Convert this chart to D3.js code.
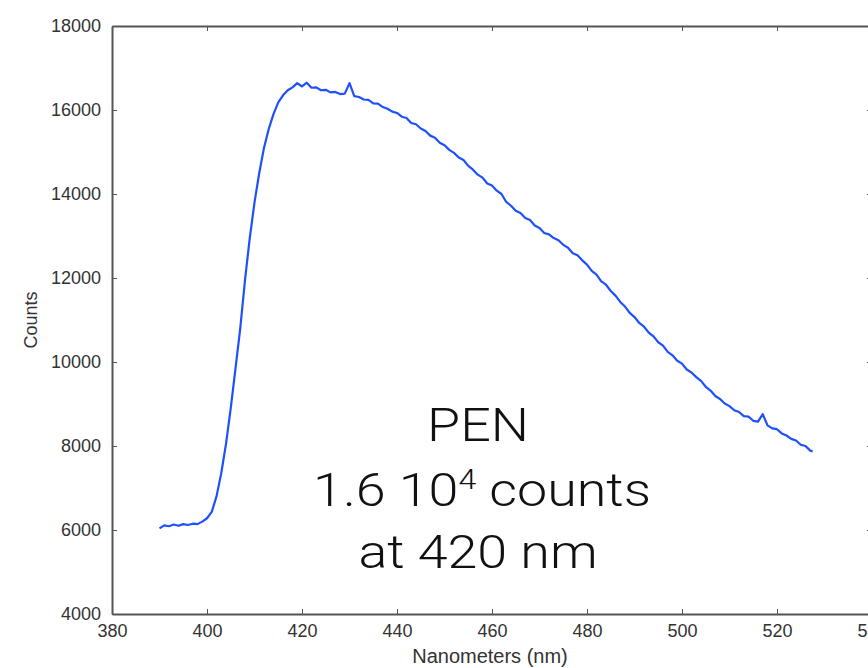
<!DOCTYPE html>
<html>
<head>
<meta charset="utf-8">
<script src="https://cdn.jsdelivr.net/npm/d3@7"></script>
<style>
  body { margin: 0; background: #fff; }
  svg { display: block; }
  .axis path, .axis line { stroke: #555; }
  .axis text { fill: #333; font-family: "Liberation Sans", Arial, sans-serif; font-size: 18px; }
</style>
</head>
<body>
<svg width="868" height="668"></svg>
<script>
// spectrum, 1 nm steps
var wavelengths = [390,391,392,393,394,395,396,397,398,399,
  400,401,402,403,404,405,406,407,408,409,
  410,411,412,413,414,415,416,417,418,419,
  420,421,422,423,424,425,426,427,428,429,
  430,431,432,433,434,435,436,437,438,439,
  440,441,442,443,444,445,446,447,448,449,
  450,451,452,453,454,455,456,457,458,459,
  460,461,462,463,464,465,466,467,468,469,
  470,471,472,473,474,475,476,477,478,479,
  480,481,482,483,484,485,486,487,488,489,
  490,491,492,493,494,495,496,497,498,499,
  500,501,502,503,504,505,506,507,508,509,
  510,511,512,513,514,515,516,517,518,519,
  520,521,522,523,524,525,526,527,527.5];
var counts = [6040,6110,6090,6130,6100,6140,6120,6150,6140,6200,
  6280,6430,6800,7350,8050,8900,9850,10800,11950,12950,
  13800,14500,15100,15550,15900,16180,16350,16470,16540,16640,
  16560,16650,16530,16540,16470,16480,16420,16430,16380,16390,
  16640,16330,16310,16250,16240,16160,16150,16070,16030,15960,
  15930,15840,15810,15690,15660,15560,15500,15390,15340,15220,
  15160,15050,14980,14870,14810,14670,14580,14460,14390,14250,
  14200,14080,14000,13810,13720,13600,13550,13430,13380,13250,
  13190,13070,13040,12950,12900,12790,12720,12590,12540,12420,
  12320,12170,12080,11920,11840,11690,11580,11430,11320,11170,
  11070,10930,10840,10700,10610,10470,10390,10240,10160,10030,
  9960,9820,9750,9640,9550,9410,9320,9190,9120,9010,
  8950,8850,8810,8710,8700,8600,8580,8760,8490,8420,
  8400,8300,8250,8170,8130,8030,8000,7890,7870];

var xTicks = [380,400,420,440,460,480,500,520,540];
var yTicks = [4000,6000,8000,10000,12000,14000,16000,18000];
var noteLines = ["PEN", "1.6 10", "at 420 nm"];

var svg = d3.select("svg");
var margin = {left: 112, top: 26, right: -4, bottom: 54};
var width = svg.attr("width") - margin.left - margin.right;
var height = svg.attr("height") - margin.top - margin.bottom;

var x = d3.scaleLinear().domain([380, 540]).range([margin.left, margin.left + width]);
var y = d3.scaleLinear().domain([4000, 18000]).range([margin.top + height, margin.top]);

var data = wavelengths.map(function(w, i) { return {nm: w, c: counts[i]}; });

var line = d3.line()
    .x(function(d) { return x(d.nm); })
    .y(function(d) { return y(d.c); });

var g = svg.append("g");

g.append("path")
    .attr("d", line(data))
    .attr("fill", "none")
    .attr("stroke", "#1f50ff")
    .attr("stroke-width", 2.2)
    .attr("stroke-linejoin", "round");

// axes, ticks pointing inward on all four sides
g.append("g")
    .attr("class", "axis")
    .attr("transform", "translate(0," + (margin.top + height) + ")")
    .call(d3.axisBottom(x).tickValues(xTicks).tickFormat(d3.format("d"))
        .tickSizeInner(-5).tickSizeOuter(0).tickPadding(10));

g.append("g")
    .attr("class", "axis")
    .attr("transform", "translate(0," + margin.top + ")")
    .call(d3.axisTop(x).tickValues(xTicks).tickFormat("")
        .tickSizeInner(-5).tickSizeOuter(0));

g.append("g")
    .attr("class", "axis")
    .attr("transform", "translate(" + margin.left + ",0)")
    .call(d3.axisLeft(y).tickValues(yTicks).tickFormat(d3.format("d"))
        .tickSizeInner(-5).tickSizeOuter(0).tickPadding(11));

g.append("g")
    .attr("class", "axis")
    .attr("transform", "translate(" + (margin.left + width) + ",0)")
    .call(d3.axisRight(y).tickValues(yTicks).tickFormat("")
        .tickSizeInner(-5).tickSizeOuter(0));

g.selectAll(".axis path").attr("stroke-width", 2);

g.append("text")
    .attr("x", 490)
    .attr("y", 663)
    .attr("text-anchor", "middle")
    .style("font-family", "Liberation Sans, Arial, sans-serif")
    .style("font-size", "20px")
    .style("fill", "#333")
    .text("Nanometers (nm)");

g.append("text")
    .attr("transform", "translate(37," + y(11000) + ") rotate(-90)")
    .attr("text-anchor", "middle")
    .style("font-family", "Liberation Sans, Arial, sans-serif")
    .style("font-size", "18px")
    .style("fill", "#333")
    .text("Counts");

// annotation
var note = g.append("g")
    .style("font-family", "Roboto, 'Liberation Sans', sans-serif")
    .style("font-weight", 300)
    .style("font-size", "47px")
    .style("fill", "#111")
    .attr("text-anchor", "middle");

note.append("text").attr("transform", "translate(478,441) scale(1.145,1)").text(noteLines[0]);
var mid = note.append("text").attr("transform", "translate(482,506) scale(1.145,1)");
mid.append("tspan").text(noteLines[1]);
mid.append("tspan").attr("dy", -17).style("font-size", "28px").text("4");
mid.append("tspan").attr("dy", 17).text(" counts");
note.append("text").attr("transform", "translate(478,568) scale(1.145,1)").text(noteLines[2]);
</script>
</body>
</html>
